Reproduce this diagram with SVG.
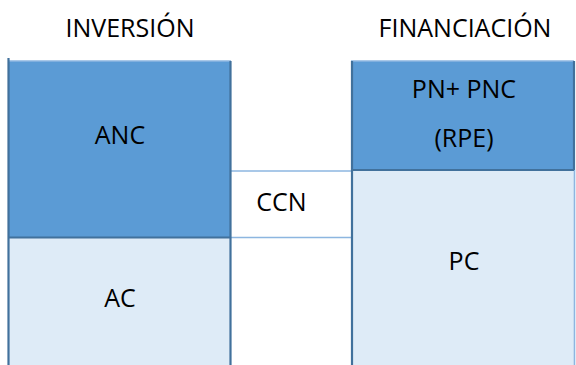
<svg xmlns="http://www.w3.org/2000/svg" width="576" height="365" viewBox="0 0 576 365">
  <style>
    .lbl { font-family: "Open Sans", "Liberation Sans", sans-serif; font-size: 25px; fill: #000; text-anchor: middle; }
    .dark { fill: #5b9bd5; }
    .light { fill: #deebf7; }
    .edge { stroke: #41719c; stroke-width: 2.2; fill: none; }
    .thin { stroke: #8db6e0; stroke-width: 1.6; fill: none; }
  </style>
  <rect width="576" height="365" fill="#ffffff"/>

  <!-- column headings -->
  <g id="heading-inversion">
    <text class="lbl" x="130" y="37">INVERSIÓN</text>
  </g>
  <g id="heading-financiacion">
    <text class="lbl" x="465" y="37">FINANCIACIÓN</text>
  </g>

  <!-- non-current assets -->
  <g id="anc">
    <rect class="dark" x="8" y="61" width="223" height="177"/>
    <line class="thin" x1="8" y1="61" x2="231" y2="61"/>
    <text class="lbl" x="120" y="144">ANC</text>
  </g>

  <!-- current assets -->
  <g id="ac">
    <rect class="light" x="8" y="238" width="223" height="127"/>
    <text class="lbl" x="120" y="307">AC</text>
  </g>

  <!-- equity + non-current liabilities -->
  <g id="pn-pnc">
    <rect class="dark" x="351" y="61" width="223" height="109"/>
    <line class="thin" x1="351" y1="61" x2="574" y2="61"/>
    <text class="lbl" x="464" y="98">PN+ PNC</text>
    <text class="lbl" x="464" y="147">(RPE)</text>
  </g>

  <!-- current liabilities -->
  <g id="pc">
    <rect class="light" x="351" y="170" width="223" height="195"/>
    <line class="thin" x1="574.5" y1="170" x2="574.5" y2="365"/>
    <text class="lbl" x="464" y="270">PC</text>
  </g>

  <!-- working capital band -->
  <g id="ccn">
    <text class="lbl" x="281.5" y="211">CCN</text>
  </g>

  <g id="connectors">
    <line class="thin" x1="231" y1="171" x2="351" y2="171"/>
    <line class="thin" x1="231" y1="237.5" x2="351" y2="237.5"/>
  </g>

  <!-- column borders -->
  <g id="borders">
    <line class="edge" x1="8.5" y1="58" x2="8.5" y2="365"/>
    <line class="edge" x1="230.5" y1="61" x2="230.5" y2="365"/>
    <line class="edge" x1="8" y1="237.5" x2="231" y2="237.5"/>
    <line class="edge" x1="352" y1="61" x2="352" y2="365"/>
    <line class="edge" x1="351" y1="170" x2="574" y2="170"/>
    <line class="edge" x1="574" y1="61" x2="574" y2="170"/>
  </g>
</svg>
